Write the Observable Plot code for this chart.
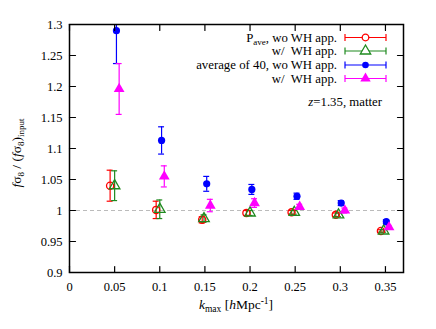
<!DOCTYPE html>
<html><head><meta charset="utf-8">
<script src="https://cdn.jsdelivr.net/npm/d3@7"></script>
<script src="https://cdn.jsdelivr.net/npm/@observablehq/plot@0.6"></script>
<style>body{margin:0;background:#fff}</style>
</head><body><div id="chart"></div>
<script>
// Data
const xTicks = [0, 0.05, 0.1, 0.15, 0.2, 0.25, 0.3, 0.35];
const yTicks = [0.9, 0.95, 1, 1.05, 1.1, 1.15, 1.2, 1.25, 1.3];
const seriesNames = ["Pave_wo", "Pave_w", "avg40_wo", "avg40_w"];
const seriesColors = ["#ff0000", "#1f8a1f", "#0000ff", "#ff00ff"];

const redK   = [0.045, 0.096, 0.147, 0.196, 0.246, 0.295, 0.345];
const redY   = [1.040, 1.001, 0.985, 0.996, 0.997, 0.993, 0.967];
const redE   = [0.025, 0.014, 0.005, 0.004, 0.003, 0.003, 0.002];

const greenK = [0.050, 0.100, 0.149, 0.200, 0.249, 0.298, 0.348];
const greenY = [1.040, 1.002, 0.987, 0.996, 0.997, 0.993, 0.967];
const greenE = [0.024, 0.015, 0.006, 0.004, 0.003, 0.003, 0.002];

const blueK  = [0.052, 0.102, 0.152, 0.202, 0.252, 0.301, 0.351];
const blueY  = [1.290, 1.113, 1.043, 1.034, 1.023, 1.012, 0.982];
const blueE  = [0.053, 0.022, 0.012, 0.008, 0.005, 0.004, 0.003];

const magK   = [0.055, 0.105, 0.156, 0.205, 0.255, 0.305, 0.354];
const magY   = [1.196, 1.055, 1.008, 1.012, 1.006, 1.000, 0.973];
const magE   = [0.041, 0.017, 0.010, 0.007, 0.004, 0.004, 0.003];

const build = (k, y, e, s) => k.map((kk, i) => ({k: kk, y: y[i], lo: y[i] - e[i], hi: y[i] + e[i], s}));
const data = [
  ...build(redK, redY, redE, 0),
  ...build(greenK, greenY, greenE, 1),
  ...build(blueK, blueY, blueE, 2),
  ...build(magK, magY, magE, 3)
];
const capW = 0.0033;
const fmt = d => String(+d.toFixed(2));
const FONT = "Liberation Serif";

// simple line shape for inward tick vectors
const tickShape = {draw(ctx, l) { ctx.moveTo(0, 0); ctx.lineTo(0, -l); }};
const tickOpts = {length: 6, anchor: "start", shape: tickShape, stroke: "#000", strokeWidth: 1.2};

const marks = [
  Plot.ruleY([1], {stroke: "#bbbbbb", strokeDasharray: "4,3", strokeWidth: 1}),
];
seriesNames.forEach((name, s) => {
  const d = data.filter(p => p.s === s);
  const c = seriesColors[s];
  marks.push(Plot.ruleX(d, {x: "k", y1: "lo", y2: "hi", stroke: c, strokeWidth: 1.2, clip: true}));
  marks.push(Plot.ruleY(d, {y: "lo", x1: p => p.k - capW, x2: p => p.k + capW, stroke: c, strokeWidth: 1.2, clip: true}));
  marks.push(Plot.ruleY(d, {y: "hi", x1: p => p.k - capW, x2: p => p.k + capW, stroke: c, strokeWidth: 1.2, clip: true}));
});
marks.push(Plot.dot(data.filter(p => p.s === 0), {x: "k", y: "y", symbol: "circle", r: 3.6, stroke: seriesColors[0], strokeWidth: 1.3, fill: "none"}));
marks.push(Plot.dot(data.filter(p => p.s === 1), {x: "k", y: "y", symbol: "triangle", r: 3.9, stroke: seriesColors[1], strokeWidth: 1.3, fill: "none"}));
marks.push(Plot.dot(data.filter(p => p.s === 2), {x: "k", y: "y", symbol: "circle", r: 3.6, fill: seriesColors[2], stroke: "none"}));
marks.push(Plot.dot(data.filter(p => p.s === 3), {x: "k", y: "y", symbol: "triangle", r: 4.0, fill: seriesColors[3], stroke: "none"}));
marks.push(
  Plot.axisX(xTicks, {anchor: "bottom", tickSize: 0, tickPadding: 10, tickFormat: fmt, fontSize: 12.5}),
  Plot.axisY(yTicks, {anchor: "left", tickSize: 0, tickPadding: 7, tickFormat: fmt, fontSize: 12.5}),
  Plot.vector(xTicks, {x: d => d, frameAnchor: "bottom", rotate: 0, ...tickOpts}),
  Plot.vector(xTicks, {x: d => d, frameAnchor: "top", rotate: 180, ...tickOpts}),
  Plot.vector(yTicks, {y: d => d, frameAnchor: "left", rotate: 90, ...tickOpts}),
  Plot.vector(yTicks, {y: d => d, frameAnchor: "right", rotate: -90, ...tickOpts}),
  Plot.frame({stroke: "#000", strokeWidth: 1.5})
);

const plot = Plot.plot({
  width: 436, height: 329,
  marginLeft: 69, marginRight: 33, marginTop: 24, marginBottom: 57,
  x: {domain: [0, 0.37], label: null},
  y: {domain: [0.9, 1.3], label: null},
  style: {fontFamily: FONT, fontSize: "12.5px", color: "#000", background: "#fff"},
  marks
});
document.getElementById("chart").appendChild(plot);

// Axis titles and legend drawn into the same SVG
const svg = d3.select(plot);
const xl = svg.append("text").attr("x", 236).attr("y", 309).attr("text-anchor", "middle")
  .attr("font-family", FONT).attr("font-size", 13.5).attr("fill", "#000");
xl.append("tspan").attr("font-style", "italic").text("k");
xl.append("tspan").attr("font-size", 9.5).attr("dy", 3).text("max");
xl.append("tspan").attr("dy", -3).text(" [");
xl.append("tspan").attr("font-style", "italic").text("h");
xl.append("tspan").text("Mpc");
xl.append("tspan").attr("font-size", 9.5).attr("dy", -5).text("-1");
xl.append("tspan").attr("dy", 5).text("]");

const yl = svg.append("text").attr("transform", "translate(21,153) rotate(-90)").attr("text-anchor", "middle")
  .attr("font-family", FONT).attr("font-size", 13.5).attr("fill", "#000");
yl.append("tspan").attr("font-style", "italic").text("f");
yl.append("tspan").text("σ");
yl.append("tspan").attr("font-size", 9).attr("dy", 3).text("8");
yl.append("tspan").attr("dy", -3).text(" / (");
yl.append("tspan").attr("font-style", "italic").text("f");
yl.append("tspan").text("σ");
yl.append("tspan").attr("font-size", 9).attr("dy", 3).text("8");
yl.append("tspan").attr("dy", -3).text(")");
yl.append("tspan").attr("font-size", 9).attr("dy", 3).text("input");

const legendRows = [
  {parts: [["P", 0], ["ave", 1], [", wo WH app.", 0]], sym: "circle", filled: false},
  {parts: [["w/  WH app.", 0]], sym: "triangle", filled: false},
  {parts: [["average of 40, wo WH app.", 0]], sym: "circle", filled: true},
  {parts: [["w/  WH app.", 0]], sym: "triangle", filled: true}
];
const rowY = [37.5, 51, 65, 78.5];
legendRows.forEach((row, i) => {
  const y = rowY[i], c = seriesColors[i];
  const t = svg.append("text").attr("x", 337).attr("y", y + 4).attr("text-anchor", "end")
    .attr("font-family", FONT).attr("font-size", 12.8).attr("fill", "#000")
    .attr("xml:space", "preserve").style("white-space", "pre");
  let sub = false;
  row.parts.forEach(([str, isSub]) => {
    const ts = t.append("tspan").text(str);
    if (isSub && !sub) { ts.attr("font-size", 9).attr("dy", 3); sub = true; }
    else if (!isSub && sub) { ts.attr("dy", -3); sub = false; }
  });
  const g = svg.append("g").attr("stroke", c).attr("stroke-width", 1.2);
  g.append("line").attr("x1", 345).attr("x2", 386).attr("y1", y).attr("y2", y);
  g.append("line").attr("x1", 345).attr("x2", 345).attr("y1", y - 3.5).attr("y2", y + 3.5);
  g.append("line").attr("x1", 386).attr("x2", 386).attr("y1", y - 3.5).attr("y2", y + 3.5);
  const symType = row.sym === "circle" ? d3.symbolCircle : d3.symbolTriangle;
  const size = row.sym === "circle" ? Math.PI * 3.3 * 3.3 : Math.PI * 15;
  svg.append("path").attr("d", d3.symbol(symType, size)()).attr("transform", `translate(365.5,${y})`)
    .attr("fill", row.filled ? c : "#fff").attr("stroke", row.filled ? "none" : c).attr("stroke-width", 1.3);
});
const zt = svg.append("text").attr("x", 382).attr("y", 106).attr("text-anchor", "end")
  .attr("font-family", FONT).attr("font-size", 12.8).attr("fill", "#000");
zt.append("tspan").attr("font-style", "italic").text("z");
zt.append("tspan").text("=1.35, matter");
</script></body></html>
